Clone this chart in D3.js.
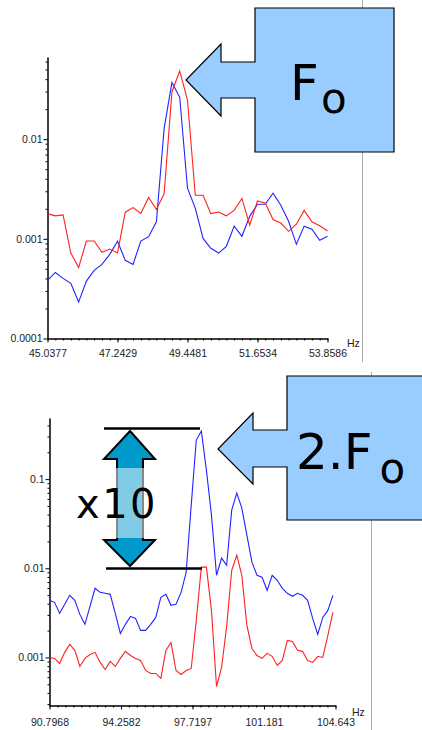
<!DOCTYPE html>
<html>
<head>
<meta charset="utf-8">
<script src="https://cdn.jsdelivr.net/npm/d3@7"></script>
<style>
  body { margin: 0; background: #fff; }
  .axis text { font-family: "Liberation Sans", Arial, sans-serif; font-size: 10.5px; fill: #222; }
  .axis path, .axis line { stroke: #000; }
  .big { font-family: "DejaVu Sans", Verdana, sans-serif; fill: #000; }
</style>
</head>
<body>
<script>
/*
*    fundamental vs 2nd harmonic spectra
*/

// top panel (F0)
var topFreq = [45.038, 45.283, 45.528, 45.773, 46.018, 46.263, 46.508, 46.753, 46.998, 47.243,
  47.488, 47.733, 47.978, 48.223, 48.468, 48.713, 48.958, 49.203, 49.448, 49.693,
  49.938, 50.183, 50.428, 50.673, 50.918, 51.163, 51.408, 51.653, 51.898, 52.143,
  52.388, 52.633, 52.878, 53.123, 53.368, 53.613, 53.859];
var topRed = [0.00179, 0.0017, 0.00174, 0.00072, 0.000514, 0.00095, 0.00095, 0.000732, 0.00079, 0.00072,
  0.00185, 0.00206, 0.0018, 0.0026, 0.00197, 0.00285, 0.0299, 0.0483, 0.0247, 0.00274,
  0.00274, 0.00179, 0.00186, 0.0017, 0.00193, 0.00254, 0.00137, 0.0024, 0.00229, 0.00156,
  0.00144, 0.00119, 0.0014, 0.00193, 0.00148, 0.00135, 0.0012];
var topBlue = [0.000383, 0.00046, 0.000401, 0.000357, 0.000232, 0.000377, 0.000482, 0.000554, 0.000699, 0.000944,
  0.000608, 0.000554, 0.00095, 0.00105, 0.00148, 0.0129, 0.037, 0.0263, 0.00322, 0.00203,
  0.00101, 0.000803, 0.00072, 0.000841, 0.00134, 0.00106, 0.00168, 0.00222, 0.00222, 0.00287,
  0.00217, 0.0015, 0.000881, 0.00134, 0.00125, 0.000966, 0.00106];
var topXTicks = [45.0377, 47.2429, 49.4481, 51.6534, 53.8586];
var topYTicks = [0.0001, 0.001, 0.01];
var topYLabels = ["0.0001", "0.001", "0.01"];
var topYDomain = [0.0001, 0.0667];

// bottom panel (2.F0)
var botFreq = [90.797, 91.042, 91.287, 91.532, 91.777, 92.022, 92.267, 92.512, 92.757, 93.002,
  93.247, 93.492, 93.737, 93.982, 94.227, 94.472, 94.717, 94.962, 95.207, 95.452,
  95.697, 95.942, 96.187, 96.432, 96.678, 96.922, 97.168, 97.413, 97.658, 97.903,
  98.148, 98.393, 98.638, 98.883, 99.128, 99.373, 99.618, 99.863, 100.108, 100.353,
  100.598, 100.843, 101.088, 101.333, 101.578, 101.823, 102.068, 102.313, 102.558, 102.803,
  103.048, 103.293, 103.538, 103.783, 104.028, 104.273, 104.518];
var botBlue = [0.00437, 0.00415, 0.00312, 0.00394, 0.00497, 0.00437, 0.00304, 0.00235, 0.00374, 0.00596,
  0.00537, 0.00524, 0.0051, 0.00312, 0.00186, 0.00235, 0.00289, 0.00274, 0.00201, 0.00201,
  0.00235, 0.00281, 0.00472, 0.0051, 0.00384, 0.00394, 0.00537, 0.00902, 0.051, 0.274,
  0.346, 0.126, 0.0394, 0.00834, 0.013, 0.0108, 0.0448, 0.0696, 0.0472, 0.0235,
  0.0117, 0.00834, 0.00792, 0.00566, 0.00834, 0.00733, 0.00596, 0.00524, 0.00485, 0.00524,
  0.00497, 0.00437, 0.00274, 0.00181, 0.00281, 0.00337, 0.00497];
var botRed = [0.001, 0.000975, 0.000856, 0.00114, 0.0014, 0.0012, 0.000792, 0.000975, 0.00108, 0.00114,
  0.000879, 0.000733, 0.000902, 0.000792, 0.000975, 0.00117, 0.00105, 0.000975, 0.000925, 0.000714,
  0.000661, 0.000661, 0.000581, 0.0012, 0.00147, 0.000714, 0.000644, 0.000714, 0.000752, 0.0026,
  0.0103, 0.0103, 0.00337, 0.000472, 0.000772, 0.00223, 0.0095, 0.014, 0.00834, 0.00229,
  0.00126, 0.00105, 0.000975, 0.00111, 0.00103, 0.000813, 0.000925, 0.00155, 0.00151, 0.0012,
  0.00117, 0.000925, 0.000879, 0.00103, 0.001, 0.00177, 0.0032];
var botXTicks = [90.7968, 94.2582, 97.7197, 101.181, 104.643];
var botYTicks = [0.001, 0.01, 0.1];
var botYLabels = ["0.001", "0.01", "0.1"];
var botYDomain = [0.000289, 0.4845];

var svg = d3.select("body")
  .append("svg")
  .attr("width", 422)
  .attr("height", 730);

var defs = svg.append("defs");
var grad = defs.append("linearGradient")
  .attr("id", "arrowFill")
  .attr("gradientUnits", "userSpaceOnUse")
  .attr("x1", 0).attr("x2", 0)
  .attr("y1", 431).attr("y2", 566);
[[0, "#0099cc"], [0.274, "#0099cc"], [0.274, "#80cce6"], [0.793, "#80cce6"], [0.793, "#0099cc"], [1, "#0099cc"]]
  .forEach(function(s) {
    grad.append("stop").attr("offset", s[0]).attr("stop-color", s[1]);
  });

// panel border lines (grey, right side)
svg.append("line").attr("x1", 362.5).attr("x2", 362.5).attr("y1", 0).attr("y2", 362)
  .attr("stroke", "#aaa");
svg.append("line").attr("x1", 371.5).attr("x2", 371.5).attr("y1", 372).attr("y2", 730)
  .attr("stroke", "#aaa");

function minorLog(domain) {
  var out = [];
  var lo = Math.floor(Math.log10(domain[0])), hi = Math.ceil(Math.log10(domain[1]));
  for (var e = lo; e <= hi; e++) {
    for (var m = 2; m <= 9; m++) {
      var v = m * Math.pow(10, e);
      if (v >= domain[0] && v <= domain[1]) out.push(v);
    }
  }
  return out;
}

function drawPanel(p) {
  var g = svg.append("g");

  var x = d3.scaleLinear()
    .domain([p.xTicks[0], p.xTicks[p.xTicks.length - 1]])
    .range([p.left, p.right]);

  var y = d3.scaleLog()
    .domain(p.yDomain)
    .range([p.bottom, p.top]);

  // x minor ticks: 9 per major step
  var step = (p.xTicks[1] - p.xTicks[0]) / 9;
  var xMinor = d3.range(0, 37).map(function(i) { return p.xTicks[0] + i * step; });

  g.append("g")
    .attr("class", "axis")
    .attr("transform", "translate(0," + p.bottom + ")")
    .call(d3.axisBottom(x).tickValues(xMinor).tickSize(2).tickSizeOuter(0).tickFormat(""));

  g.append("g")
    .attr("class", "x axis")
    .attr("transform", "translate(0," + p.bottom + ")")
    .call(d3.axisBottom(x).tickValues(p.xTicks).tickSize(4).tickSizeOuter(0)
      .tickPadding(p.xPad)
      .tickFormat(function(d, i) { return p.xLabels[i]; }));

  g.append("g")
    .attr("class", "axis")
    .attr("transform", "translate(" + p.left + ",0)")
    .call(d3.axisLeft(y).tickValues(minorLog(p.yDomain)).tickSize(2).tickSizeOuter(0).tickFormat(""));

  g.append("g")
    .attr("class", "y axis")
    .attr("transform", "translate(" + p.left + ",0)")
    .call(d3.axisLeft(y).tickValues(p.yTicks).tickSize(4).tickSizeOuter(0).tickPadding(1)
      .tickFormat(function(d, i) { return p.yLabels[i]; }));

  g.append("text")
    .attr("x", p.hzX)
    .attr("y", p.hzY)
    .attr("font-family", "Liberation Sans, Arial, sans-serif")
    .attr("font-size", "10.5px")
    .attr("fill", "#222")
    .text("Hz");

  var line = d3.line()
    .x(function(d, i) { return x(p.freq[i]); })
    .y(function(d) { return y(d); });

  g.append("path")
    .datum(p.blue)
    .attr("fill", "none")
    .attr("stroke", "#2222ff")
    .attr("stroke-width", 1.1)
    .attr("d", line);

  g.append("path")
    .datum(p.red)
    .attr("fill", "none")
    .attr("stroke", "#ff2020")
    .attr("stroke-width", 1.1)
    .attr("d", line);
}

drawPanel({
  freq: topFreq, red: topRed, blue: topBlue,
  xTicks: topXTicks, xLabels: ["45.0377", "47.2429", "49.4481", "51.6534", "53.8586"],
  yTicks: topYTicks, yLabels: topYLabels, yDomain: topYDomain,
  left: 47.5, right: 327.5, top: 57, bottom: 338.5, xPad: 7.5,
  hzX: 347, hzY: 347
});

drawPanel({
  freq: botFreq, red: botRed, blue: botBlue,
  xTicks: botXTicks, xLabels: ["90.7968", "94.2582", "97.7197", "101.181", "104.643"],
  yTicks: botYTicks, yLabels: botYLabels, yDomain: botYDomain,
  left: 49.5, right: 335.5, top: 418, bottom: 705.5, xPad: 9,
  hzX: 352, hzY: 716
});

// callout F0
svg.append("polygon")
  .attr("points", "255,8 394,8 394,152 255,152 255,98 221,98 221,116 186,80 221,44 221,62 255,62")
  .attr("fill", "#99ccff")
  .attr("stroke", "#000")
  .attr("stroke-width", 1.2);
svg.append("text").attr("class", "big").attr("x", 290).attr("y", 100)
  .attr("font-size", "50px").text("F");
svg.append("text").attr("class", "big").attr("x", 321).attr("y", 113)
  .attr("font-size", "42px").text("o");

// callout 2.F0
svg.append("polygon")
  .attr("points", "287,376 430,376 430,520 287,520 287,467 253,467 253,484 218,449 253,413 253,430 287,430")
  .attr("fill", "#99ccff")
  .attr("stroke", "#000")
  .attr("stroke-width", 1.2);
svg.append("text").attr("class", "big").attr("x", 296).attr("y", 469)
  .attr("font-size", "50px").text("2.F");
svg.append("text").attr("class", "big").attr("x", 379.5).attr("y", 482.5)
  .attr("font-size", "42px").text("o");

// x10 marker
svg.append("line").attr("x1", 104).attr("x2", 200).attr("y1", 428.5).attr("y2", 428.5)
  .attr("stroke", "#000").attr("stroke-width", 2.5);
svg.append("line").attr("x1", 106).attr("x2", 202).attr("y1", 568.5).attr("y2", 568.5)
  .attr("stroke", "#000").attr("stroke-width", 2.5);
svg.append("polygon")
  .attr("points", "130,431 155,459 143,459 143,540 155,540 130,566 104,540 117,540 117,459 104,459")
  .attr("fill", "url(#arrowFill)")
  .attr("stroke", "#000")
  .attr("stroke-width", 2);
svg.append("line").attr("x1", 117).attr("x2", 117).attr("y1", 468).attr("y2", 538)
  .attr("stroke", "#888").attr("stroke-width", 2);
svg.append("line").attr("x1", 143).attr("x2", 143).attr("y1", 468).attr("y2", 538)
  .attr("stroke", "#888").attr("stroke-width", 2);
svg.append("text").attr("class", "big").attr("x", 76).attr("y", 518)
  .attr("font-size", "40px").attr("letter-spacing", "2.5px").text("x10");
</script>
</body>
</html>
